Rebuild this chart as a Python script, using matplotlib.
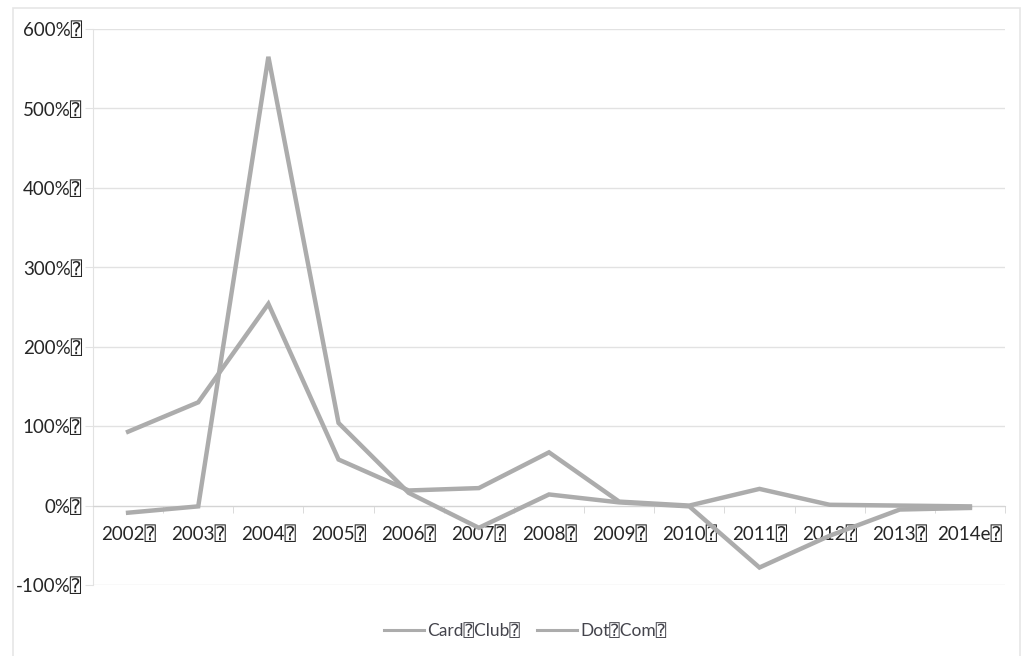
import matplotlib
matplotlib.use("Agg")
import matplotlib.pyplot as plt
from matplotlib.ticker import FixedLocator, FuncFormatter
import numpy as np

plt.rcParams['font.family'] = ['Lato', 'DejaVu Sans', 'DejaVu Sans Mono']

BOX = "\u2370"

# annual growth, percent
years = ["2002", "2003", "2004", "2005", "2006", "2007", "2008",
         "2009", "2010", "2011", "2012", "2013", "2014e"]
card_club = [-9, -1, 565, 104, 16, -28, 14, 4, -1, -78, -38, -5, -3]
dot_com = [93, 130, 254, 58, 19, 22, 67, 5, 0, 21, 1, 0, -1]

line_color = "#acacac"
grid_color = "#e2e2e2"
text_color = "#262626"

fig = plt.figure(figsize=(10.30, 6.56), dpi=100)
# faint frame round the chart area
fig.patches.append(plt.Rectangle((13 / 1030, -0.02), 1007 / 1030, 1 - 8 / 656 + 0.02,
                                 transform=fig.transFigure, fill=False,
                                 edgecolor="#e6e6e6", linewidth=1.2))

ax = fig.add_axes([93 / 1030, 71 / 656, 912 / 1030, 556 / 656])
x = np.arange(len(years))

ax.plot(x, card_club, color=line_color, linewidth=3.2, solid_joinstyle="miter",
        label="Card" + BOX + "Club" + BOX, zorder=3)
ax.plot(x, dot_com, color=line_color, linewidth=3.2, solid_joinstyle="miter",
        label="Dot" + BOX + "Com" + BOX, zorder=3)

ax.set_xlim(-0.5, len(years) - 0.5)
ax.set_ylim(-100, 600)

ax.set_yticks(np.arange(-100, 601, 100))
ax.yaxis.set_major_formatter(FuncFormatter(lambda v, p: f"{v:.0f}%" + BOX))
ax.grid(axis="y", color=grid_color, linewidth=1.0)
ax.set_axisbelow(True)
ax.tick_params(axis="y", length=6, color=grid_color, labelsize=13.5,
               labelcolor=text_color, pad=2)

for s in ["top", "right"]:
    ax.spines[s].set_visible(False)
ax.spines["left"].set_color(grid_color)
ax.spines["bottom"].set_position(("data", 0))
ax.spines["bottom"].set_color("#d4d4d4")

ax.set_xticks(x)
ax.set_xticklabels([y + BOX for y in years])
ax.xaxis.set_minor_locator(FixedLocator(np.arange(-0.5, len(years), 1)))
ax.tick_params(axis="x", which="major", length=0, labelsize=13.5,
               labelcolor=text_color, pad=14)
ax.tick_params(axis="x", which="minor", length=5, color="#d4d4d4")

leg = fig.legend(loc="center", bbox_to_anchor=(0.51, 0.038), ncol=2, frameon=False,
                 fontsize=12.5, handlelength=2.3, columnspacing=1.0,
                 handletextpad=0.2, labelcolor="#44444c")
for h in leg.legend_handles:
    h.set_linewidth(2.2)

fig.savefig("out.png", dpi=100, facecolor="white")
